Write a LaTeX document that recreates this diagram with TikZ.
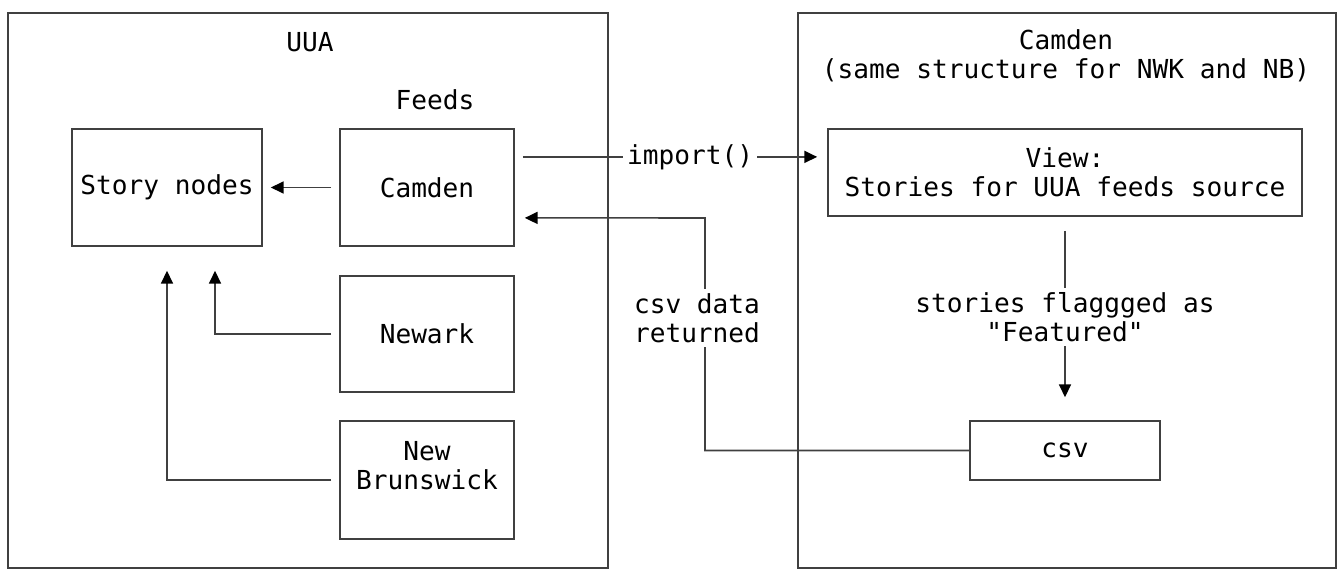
\documentclass[tikz,border=0pt]{standalone}
\usepackage{fontspec}
\setmonofont{DejaVu Sans Mono}
\usetikzlibrary{arrows.meta, positioning, calc}

\begin{document}
\begin{tikzpicture}[
        x=0.025cm, y=-0.025cm,
        font=\ttfamily\fontsize{18.6}{20.6}\selectfont,
        group/.style={rectangle, draw=black!75, line width=1.1pt, inner sep=0pt},
        box/.style={rectangle, draw=black!75, line width=1.1pt, inner sep=0pt, align=center},
        title/.style={align=center, inner sep=1pt},
        arr/.style={-{Triangle[length=0.32cm, width=0.3cm, fill=black, color=black]}, line width=1.1pt, draw=black!75},
        lbl/.style={fill=white, align=center, inner sep=3pt}
    ]
        \useasboundingbox (0,0) rectangle (1344,578);
        % the two systems
        \node[group, minimum width=15cm, minimum height=13.875cm] (uua) at (308, 290.5) {};
        \node[group, minimum width=13.45cm, minimum height=13.875cm] (cam) at (1067, 290.5) {};
        \node[title] (uuatitle) at (310, 42) {UUA};
        \node[title] (feedstitle) at (435, 100) {Feeds};
        \node[title] (camtitle) at (1066, 56) {Camden\\(same structure for NWK and NB)};
        % UUA side
        \node[box, minimum width=4.75cm, minimum height=2.925cm] (story) at (167, 187.5) {Story nodes};
        \node[box, minimum width=4.35cm, minimum height=2.925cm] (fcamden) at (427, 187.5) {Camden};
        \node[box, minimum width=4.35cm, minimum height=2.9cm] (newark) at (427, 334) {Newark};
        \node[box, minimum width=4.35cm, minimum height=2.95cm] (nb) at (427, 480) {New\\Brunswick\\\mbox{}};
        % Camden side
        \node[box, minimum width=11.85cm, minimum height=2.175cm] (view) at (1065, 172.5) {View:\\Stories for UUA feeds source};
        \node[box, minimum width=4.75cm, minimum height=1.475cm] (csv) at (1065, 450.5) {csv};
        \coordinate (impend) at ([xshift=-0.25cm, yshift=0.39cm]view.west);
        \coordinate (retturn) at (705, 218);
        \draw[arr, shorten <=0.2cm, shorten >=0.2cm] (fcamden.west) -- (story.east);
        \draw[arr, shorten <=0.2cm] (newark.west) -| ([xshift=1.2cm, yshift=-0.6cm]story.south);
        \draw[arr, shorten <=0.2cm] (nb.west) -| ([yshift=-0.6cm]story.south);
        \draw[arr, shorten <=0.2cm] (fcamden.east |- impend) -- (impend) node[pos=0.58, lbl] (implbl) {import()};
        \draw[arr] (csv.west) -| (retturn) -- ([xshift=0.25cm, yshift=-0.76cm]fcamden.east);
        \node[lbl] (retlbl) at (697, 318) {csv data\\returned};
        \draw[arr] ([yshift=-0.35cm]view.south) -- ([yshift=0.575cm]csv.north) node[pos=0.52, lbl] (flaglbl) {stories flaggged as\\"Featured"};
    \end{tikzpicture}
\end{document}
